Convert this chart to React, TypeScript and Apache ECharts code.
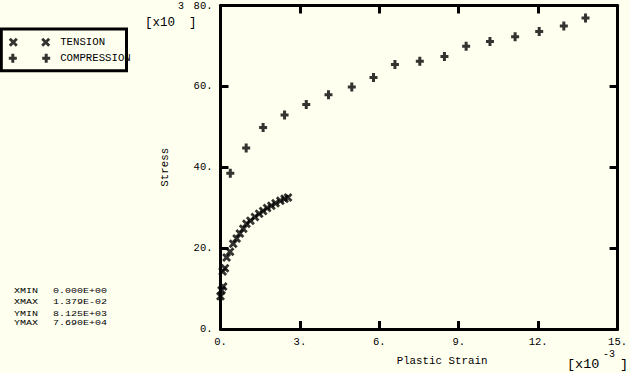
import React, { useEffect, useRef } from "react";
import * as echarts from "echarts";

// Values in units: strain [x10^-3], stress [x10^3]
const tensionStrain = [0, 0.04, 0.1, 0.08, 0.17, 0.23, 0.36, 0.48, 0.61, 0.73, 0.86, 0.98, 1.13, 1.3, 1.46, 1.61, 1.76, 1.92, 2.08, 2.26, 2.42, 2.55];
const tensionStress = [8.125, 9.6, 10.5, 14.2, 15.0, 17.7, 19.1, 21.1, 22.4, 23.6, 24.8, 26.0, 26.8, 27.7, 28.5, 29.2, 29.9, 30.5, 31.1, 31.7, 32.2, 32.5];

const compressionStrain = [0.37, 0.97, 1.61, 2.42, 3.24, 4.08, 4.96, 5.78, 6.59, 7.53, 8.46, 9.28, 10.18, 11.13, 12.04, 12.97, 13.79];
const compressionStress = [38.5, 44.75, 49.8, 52.9, 55.5, 57.95, 59.85, 62.2, 65.4, 66.2, 67.4, 69.9, 71.1, 72.3, 73.6, 74.9, 76.9];

const seriesNames = ["TENSION", "COMPRESSION"];
const statLabels = ["XMIN", "XMAX", "YMIN", "YMAX"];
const statValues = ["0.000E+00", "1.379E-02", "8.125E+03", "7.690E+04"];

const FONT = "Liberation Mono";

const xPath = (dx: number) =>
  `M${dx},2 L${dx + 2},0 L${dx + 4.5},2.5 L${dx + 7},0 L${dx + 9},2 L${dx + 6.5},4.5 L${dx + 9},7 L${dx + 7},9 L${dx + 4.5},6.5 L${dx + 2},9 L${dx},7 L${dx + 2.5},4.5 Z`;
const plusPath = (dx: number) =>
  `M${dx + 2.5},0 L${dx + 5.5},0 L${dx + 5.5},3 L${dx + 8},3 L${dx + 8},6 L${dx + 5.5},6 L${dx + 5.5},9 L${dx + 2.5},9 L${dx + 2.5},6 L${dx},6 L${dx},3 L${dx + 2.5},3 Z`;

const X_SYMBOL = "path://" + xPath(0);
const PLUS_SYMBOL = "path://" + plusPath(0);
const X_PAIR = "path://" + xPath(0) + " " + xPath(32.4);
const PLUS_PAIR = "path://" + plusPath(0) + " " + plusPath(33.4);

export default function App() {
  const ref = useRef<HTMLDivElement>(null);

  useEffect(() => {
    if (!ref.current) return;
    const chart = echarts.init(ref.current, null, { renderer: "svg" });

    const axisLine = { show: true, onZero: false, lineStyle: { color: "#000", width: 3 } };
    const axisTick = { show: true, inside: true, length: 8, lineStyle: { color: "#000", width: 3 } };

    const statGraphics: any[] = [];
    const statY = [291.3, 302, 314, 323.7];
    statLabels.forEach((l, i) => {
      statGraphics.push({
        type: "text", x: 14, y: statY[i], scaleY: 0.72,
        style: { text: l, fontFamily: FONT, fontSize: 10, fill: "#000", verticalAlign: "middle" },
      });
      statGraphics.push({
        type: "text", x: 53, y: statY[i], scaleY: 0.72,
        style: { text: statValues[i], fontFamily: FONT, fontSize: 10, fill: "#000", verticalAlign: "middle" },
      });
    });

    const option: any = {
      animation: false,
      backgroundColor: "#fffff0",
      textStyle: { fontFamily: FONT },
      grid: { left: 220.5, right: 11, top: 4.2, bottom: 44, show: false },
      legend: {
        orient: "vertical",
        left: 8.8,
        top: 34.3,
        padding: 0,
        itemGap: 0,
        itemWidth: 41.4,
        itemHeight: 9,
        selectedMode: false,
        textStyle: { fontFamily: FONT, fontSize: 10.7, color: "#000", lineHeight: 16, padding: [0, 0, 0, 5] },
        data: [
          { name: seriesNames[0], icon: X_PAIR },
          { name: seriesNames[1], icon: PLUS_PAIR },
        ],
      },
      xAxis: [
        {
          type: "value", min: 0, max: 15, interval: 3, position: "bottom",
          axisLine, axisTick,
          splitLine: { show: false },
          axisLabel: { color: "#000", fontFamily: FONT, fontSize: 10.5, margin: 7, formatter: (v: number) => v + "." },
          name: "Plastic Strain", nameLocation: "middle", nameGap: 26,
          nameTextStyle: { color: "#000", fontFamily: FONT, fontSize: 10.8, padding: [0, 0, 0, 46] },
        },
        {
          type: "value", min: 0, max: 15, interval: 3, position: "top",
          axisLine, axisTick,
          splitLine: { show: false },
          axisLabel: { show: false },
        },
      ],
      yAxis: [
        {
          type: "value", min: 0, max: 80, interval: 20, position: "left",
          axisLine, axisTick,
          splitLine: { show: false },
          axisLabel: { color: "#000", fontFamily: FONT, fontSize: 10.5, margin: 8, formatter: (v: number) => v + "." },
          name: "Stress", nameLocation: "middle", nameGap: 50,
          nameTextStyle: { color: "#000", fontFamily: FONT, fontSize: 10.8 },
        },
        {
          type: "value", min: 0, max: 80, interval: 20, position: "right",
          axisLine, axisTick,
          splitLine: { show: false },
          axisLabel: { show: false },
        },
      ],
      series: [
        {
          name: seriesNames[0], type: "scatter", symbol: X_SYMBOL, symbolSize: 9,
          itemStyle: { color: "#000" },
          data: tensionStrain.map((x, i) => [x, tensionStress[i]]),
        },
        {
          name: seriesNames[1], type: "scatter", symbol: PLUS_SYMBOL, symbolSize: [8, 9],
          itemStyle: { color: "#000" },
          data: compressionStrain.map((x, i) => [x, compressionStress[i]]),
        },
      ],
      graphic: [
        { type: "rect", shape: { x: 1.3, y: 29, width: 125.2, height: 41.7 }, style: { fill: "none", stroke: "#000", lineWidth: 3 }, z: 10 },
        { type: "text", x: 145, y: 23, style: { text: "[x10", fontFamily: FONT, fontSize: 12.5, fill: "#000", verticalAlign: "middle" } },
        { type: "text", x: 178, y: 6, style: { text: "3", fontFamily: FONT, fontSize: 10, fill: "#000", verticalAlign: "middle" } },
        { type: "text", x: 189, y: 23, style: { text: "]", fontFamily: FONT, fontSize: 12.5, fill: "#000", verticalAlign: "middle" } },
        { type: "text", x: 567, y: 364, style: { text: "[x10", fontFamily: FONT, fontSize: 13.5, fill: "#000", verticalAlign: "middle" } },
        { type: "text", x: 603, y: 354, style: { text: "-3", fontFamily: FONT, fontSize: 10, fill: "#000", verticalAlign: "middle" } },
        { type: "text", x: 620, y: 364, style: { text: "]", fontFamily: FONT, fontSize: 13.5, fill: "#000", verticalAlign: "middle" } },
        ...statGraphics,
      ],
    };

    chart.setOption(option);
    return () => chart.dispose();
  }, []);

  return (
    <div
      ref={ref}
      style={{ position: "fixed", left: 0, top: 0, width: 630, height: 373 }}
    />
  );
}
